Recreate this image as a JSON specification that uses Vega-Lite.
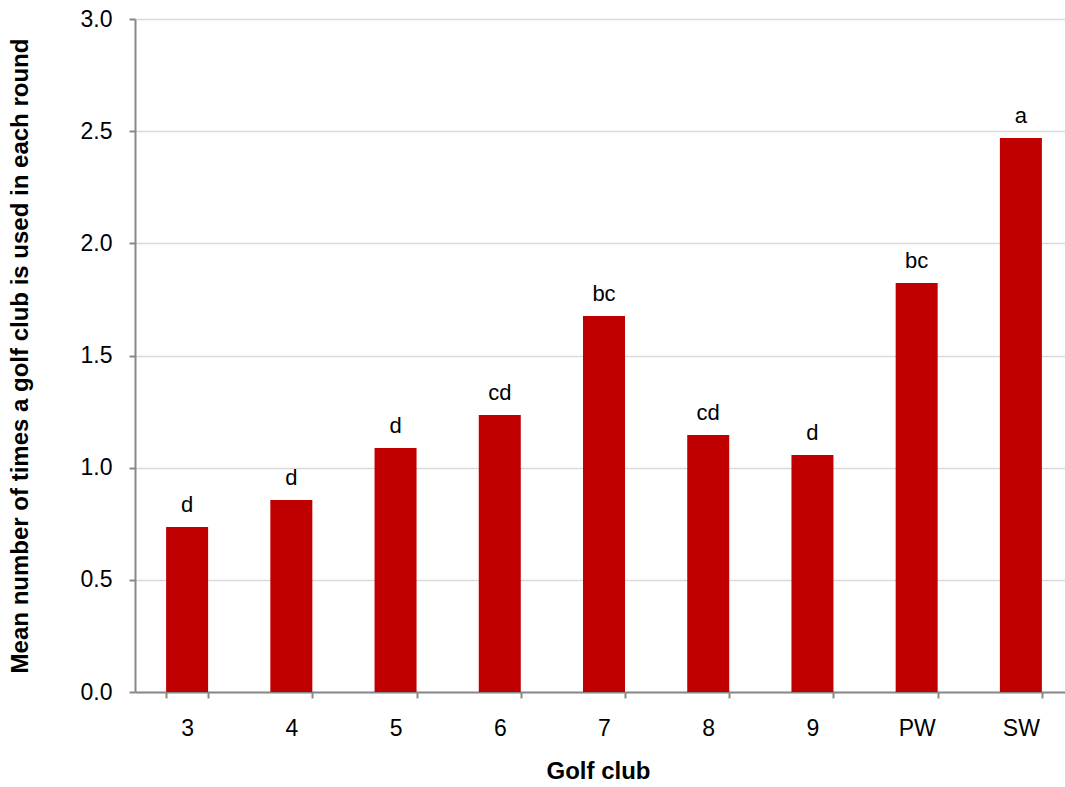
{
  "$schema": "https://vega.github.io/schema/vega-lite/v6.json",
  "width": 927,
  "height": 673,
  "autosize": {"type": "none"},
  "padding": {"left": 135, "top": 19, "right": 3, "bottom": 95},
  "background": "white",
  "config": {
    "view": {"stroke": null},
    "font": "Liberation Sans",
    "axis": {"labelFont": "Liberation Sans", "titleFont": "Liberation Sans", "labelColor": "#000000"}
  },
  "data": {
    "values": [
      {"club": "3", "mean": 0.736, "group": "d"},
      {"club": "4", "mean": 0.856, "group": "d"},
      {"club": "5", "mean": 1.088, "group": "d"},
      {"club": "6", "mean": 1.235, "group": "cd"},
      {"club": "7", "mean": 1.676, "group": "bc"},
      {"club": "8", "mean": 1.146, "group": "cd"},
      {"club": "9", "mean": 1.057, "group": "d"},
      {"club": "PW", "mean": 1.823, "group": "bc"},
      {"club": "SW", "mean": 2.470, "group": "a"}
    ]
  },
  "encoding": {
    "x": {
      "field": "club",
      "type": "nominal",
      "sort": null,
      "scale": {"range": [0, 938], "paddingInner": 0.597, "paddingOuter": 0.2985},
      "axis": {
        "title": "Golf club",
        "titleFontSize": 24,
        "titleFontWeight": "bold",
        "titleColor": "#000000",
        "titlePadding": 19,
        "titleX": 463,
        "labelAngle": 0,
        "labelFontSize": 23,
        "labelColor": "#000000",
        "labelPadding": 19,
        "tickBand": "extent",
        "tickSize": 6,
        "tickColor": "#888888",
        "domainColor": "#888888",
        "domainWidth": 2,
        "tickWidth": 2
      }
    },
    "y": {
      "field": "mean",
      "type": "quantitative",
      "scale": {"domain": [0, 3], "nice": false},
      "axis": {
        "title": "Mean number of times a golf club is used in each round",
        "titleFontSize": 24,
        "titleFontWeight": "bold",
        "titleColor": "#000000",
        "titleX": -108,
        "titleBaseline": "alphabetic",
        "values": [0, 0.5, 1, 1.5, 2, 2.5, 3],
        "format": ".1f",
        "labelFontSize": 23,
        "labelColor": "#000000",
        "labelPadding": 17,
        "tickSize": 6,
        "tickColor": "#888888",
        "domainColor": "#888888",
        "domainWidth": 2,
        "tickWidth": 2,
        "grid": true,
        "gridColor": "#d9d9d9",
        "gridWidth": 1.5
      }
    }
  },
  "layer": [
    {"mark": {"type": "bar", "color": "#c00000"}},
    {
      "mark": {"type": "text", "baseline": "alphabetic", "dy": -15, "fontSize": 22, "color": "#000000"},
      "encoding": {"text": {"field": "group"}}
    }
  ]
}
